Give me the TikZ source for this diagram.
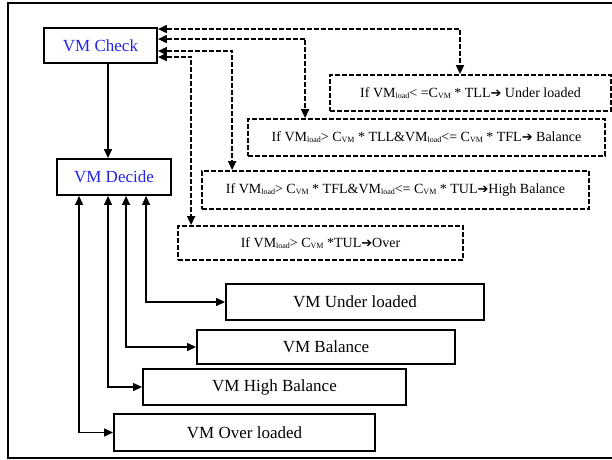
\documentclass[tikz,border=0pt]{standalone}
\usepackage{fontspec}
\setmainfont{Liberation Serif}
\newfontfamily\symfont{DejaVu Sans}
\usetikzlibrary{arrows.meta,calc}
\definecolor{labelblue}{RGB}{35,35,235}
% small lowered index text (VM_load, C_VM)
\newcommand\sbs[1]{\raisebox{-1.2pt}{\fontsize{8}{9}\selectfont #1}}
% heavy right arrow
\newcommand\harr{{\symfont\fontsize{13}{14}\selectfont\bfseries ➔}}

\begin{document}
\begin{tikzpicture}[x=1pt,y=-1pt,
  solidbox/.style={draw, line width=1.9pt, rectangle, inner sep=0pt,
    font=\fontsize{17}{19}\selectfont},
  condbox/.style={draw, line width=1.8pt, dash pattern=on 5pt off 2pt,
    rectangle, inner sep=0pt, font=\fontsize{14}{16}\selectfont},
  tip/.tip={Triangle[length=9pt,width=8pt]},
  link/.style={line width=1.4pt, -tip},
  dlink/.style={line width=1.3pt, tip-tip},
  dashlink/.style={line width=1.7pt, dash pattern=on 5pt off 2pt, tip-tip},
]
\useasboundingbox (0,0) rectangle (612,459);
\draw[line width=1.5pt] (8,3) rectangle (614,458);

% main boxes
\node[solidbox, minimum width=113pt, minimum height=35pt, text=labelblue] (check) at (100.5,45.5) {VM Check};
\node[solidbox, minimum width=114pt, minimum height=36pt, text=labelblue] (decide) at (114,177) {VM Decide};

% condition boxes
\node[condbox, minimum width=281pt, minimum height=36pt] (c1) at (470.5,93)
  {If VM\sbs{load}< =C\sbs{VM} * TLL\harr{} Under loaded};
\node[condbox, minimum width=357pt, minimum height=37pt] (c2) at (426.5,137.5)
  {If VM\sbs{load}> C\sbs{VM} * TLL\&VM\sbs{load}<= C\sbs{VM} * TFL\harr{} Balance};
\node[condbox, minimum width=387pt, minimum height=38pt] (c3) at (395.5,190)
  {If VM\sbs{load}> C\sbs{VM} * TFL\&VM\sbs{load}<= C\sbs{VM} * TUL\harr{}High Balance};
\node[condbox, minimum width=285pt, minimum height=34pt] (c4) at (320.5,243)
  {If VM\sbs{load}> C\sbs{VM} *TUL\harr{}Over};

% result boxes
\node[solidbox, minimum width=258pt, minimum height=36pt] (under) at (355,302) {VM Under loaded};
\node[solidbox, minimum width=258pt, minimum height=34pt] (bal) at (326,347) {VM Balance};
\node[solidbox, minimum width=263pt, minimum height=36pt] (high) at (274.5,387) {VM High Balance};
\node[solidbox, minimum width=261pt, minimum height=37pt] (over) at (244.5,432.5) {VM Over loaded};

% check -> decide
\draw[link] ([xshift=7.5pt]check.south) -- ([xshift=7.5pt]check.south |- decide.north);

% dashed feedback links between check and the conditions
\draw[dashlink] ([yshift=-2pt]check.north east) -| ([xshift=-10.5pt]c1.north);
\draw[dashlink] ([yshift=-12pt]check.north east) -| ([xshift=58pt]c2.north west);
\draw[dashlink] ([yshift=-24pt]check.north east) -| ([xshift=31pt]c3.north west);
\draw[dashlink] ([yshift=-30pt]check.north east) -| ([xshift=14pt]c4.north west);

% decide <-> results
\draw[dlink] ([xshift=90pt]decide.south west) |- (under.west);
\draw[dlink] ([xshift=70pt]decide.south west) |- (bal.west);
\draw[dlink] ([xshift=52pt]decide.south west) |- (high.west);
\draw[dlink] ([xshift=23pt]decide.south west) |- (over.west);
\end{tikzpicture}
\end{document}
